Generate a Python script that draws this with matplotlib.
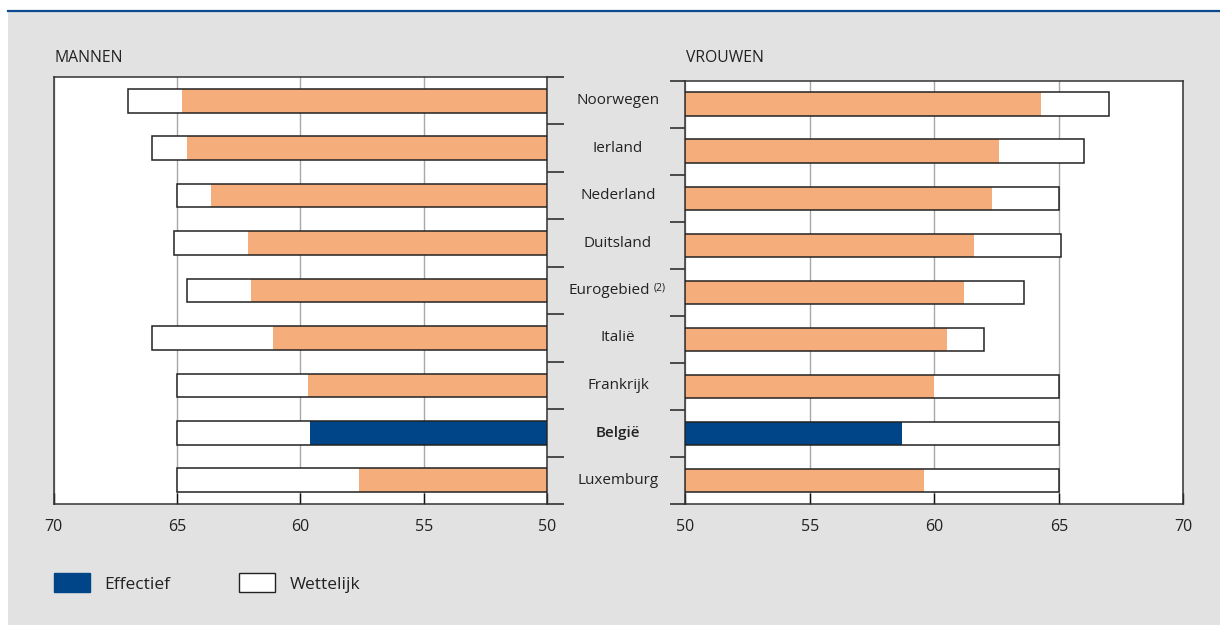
import matplotlib.pyplot as plt
from matplotlib.patches import Patch, Rectangle
from matplotlib.lines import Line2D
import numpy as np

plt.rcParams['font.family'] = ['Open Sans', 'DejaVu Sans']

# data
landen = ['Noorwegen', 'Ierland', 'Nederland', 'Duitsland', 'Eurogebied',
          'Italië', 'Frankrijk', 'België', 'Luxemburg']
mannen_wettelijk = [67.0, 66.0, 65.0, 65.1, 64.6, 66.0, 65.0, 65.0, 65.0]
mannen_effectief = [64.8, 64.6, 63.6, 62.1, 62.0, 61.1, 59.7, 59.6, 57.6]
vrouwen_wettelijk = [67.0, 66.0, 65.0, 65.1, 63.6, 62.0, 65.0, 65.0, 65.0]
vrouwen_effectief = [64.3, 62.6, 62.3, 61.6, 61.2, 60.5, 60.0, 58.7, 59.6]
xticks = [50, 55, 60, 65, 70]

oranje = '#f5ae7b'
navy = '#004587'
grijs = '#e2e2e2'
tekst = '#222222'

W, H = 1220, 625
fig = plt.figure(figsize=(W / 100, H / 100), dpi=100, facecolor='white')

# grey panel and blue top rule (behind the axes)
fig.patches.append(Rectangle((8 / W, 0), 1 - 8 / W, 1 - 12 / H, transform=fig.transFigure,
                             facecolor=grijs, edgecolor='none', zorder=-10))
fig.lines.append(Line2D([8 / W, 1], [1 - 11 / H, 1 - 11 / H], transform=fig.transFigure,
                        color='#0b4a8c', lw=1.6, zorder=-9))

ax1 = fig.add_axes([53.5 / W, 1 - 504 / H, 493.5 / W, 427 / H])
ax2 = fig.add_axes([685.3 / W, 1 - 504 / H, 498 / W, 423.3 / H])

y = np.arange(len(landen))
kleur = [navy if l == 'België' else oranje for l in landen]

for ax, wet, eff in [(ax1, mannen_wettelijk, mannen_effectief),
                     (ax2, vrouwen_wettelijk, vrouwen_effectief)]:
    wet = np.array(wet)
    eff = np.array(eff)
    ax.set_facecolor('white')
    ax.barh(y, wet - 50, left=50, height=0.5, color='white', edgecolor='none', zorder=2)
    ax.barh(y, eff - 50, left=50, height=0.5, color=kleur, edgecolor='none', zorder=3)
    ax.barh(y, wet - 50, left=50, height=0.5, fill=False, edgecolor='#222222', lw=1.1, zorder=4)
    ax.set_ylim(len(landen) - 0.5, -0.5)
    ax.set_xticks(xticks)
    ax.set_xticklabels([str(t) for t in xticks])
    ax.grid(axis='x', color='#a8a8a8', lw=1.0, zorder=1)
    ax.set_axisbelow(True)
    ax.tick_params(axis='x', direction='in', length=8, width=1.0, color='#111111',
                   labelsize=11.5, labelcolor=tekst, pad=11)
    ax.set_yticks(np.arange(-0.5, len(landen), 1.0))
    ax.set_yticklabels([])
    for s in ax.spines.values():
        s.set_color('#333333')
        s.set_linewidth(1.1)

ax1.set_xlim(70, 50)
ax2.set_xlim(50, 70)
ax1.yaxis.tick_right()
ax1.tick_params(axis='y', direction='out', length=12, width=1.1, color='#222222')
ax2.yaxis.tick_left()
ax2.tick_params(axis='y', direction='out', length=11, width=1.1, color='#222222')

# country labels in the middle
tr = ax1.get_yaxis_transform()
xc = (618 - 53.5) / 493.5
for i, l in enumerate(landen):
    if l == 'Eurogebied':
        t = ax1.annotate(l, xy=(xc, i), xycoords=tr, xytext=(-6, 0), textcoords='offset points',
                         ha='center', va='center', fontsize=11, color=tekst)
        ax1.annotate('(2)', xy=(1, 1), xycoords=t, xytext=(2, 0), textcoords='offset points',
                     ha='left', va='top', fontsize=7.5, color=tekst)
    else:
        ax1.text(xc, i, l, transform=tr, ha='center', va='center', fontsize=11, color=tekst,
                 fontweight='semibold' if l == 'België' else 'normal')

fig.text(54 / W, 1 - 58 / H, 'MANNEN', ha='left', va='center', fontsize=11.3, color=tekst)
fig.text(686 / W, 1 - 58 / H, 'VROUWEN', ha='left', va='center', fontsize=11.3, color=tekst)

handles = [Patch(facecolor=navy, edgecolor=navy, label='Effectief'),
           Patch(facecolor='white', edgecolor='#222222', lw=1.0, label='Wettelijk')]
fig.legend(handles=handles, loc='center left', bbox_to_anchor=(54 / W, 1 - 583 / H), ncol=2,
           frameon=False, fontsize=12.5, handlelength=2.1, handleheight=1.25, handletextpad=0.8,
           columnspacing=3.95, borderpad=0, borderaxespad=0, labelcolor=tekst)

fig.savefig('out.png', dpi=100, facecolor=fig.get_facecolor())
